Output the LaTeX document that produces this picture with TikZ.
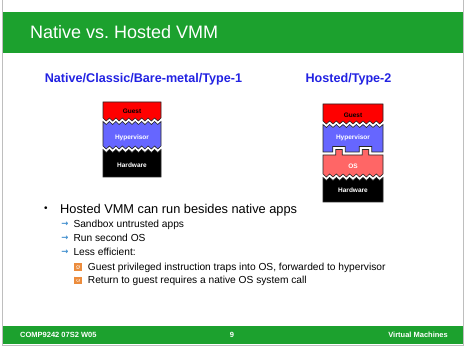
\documentclass[tikz,border=0pt]{standalone}
\usepackage{fontspec}
\setmainfont{Liberation Sans}
\newfontfamily\djv{DejaVu Sans}
\definecolor{slgreen}{RGB}{28,161,46}
\definecolor{hdblue}{RGB}{34,34,226}
\definecolor{hvblue}{RGB}{102,102,255}
\definecolor{guestred}{RGB}{255,0,0}
\definecolor{osred}{RGB}{255,102,102}
\definecolor{arrblue}{RGB}{60,140,205}
\definecolor{boxorange}{RGB}{236,140,60}
\definecolor{framegray}{RGB}{190,190,190}
\tikzset{
  layer/.style={draw=black!85, line width=0.6pt, line join=miter},
  lbl/.style={font=\fontsize{6.5}{7}\selectfont\bfseries, inner sep=0pt},
  heading/.style={font=\fontsize{12.6}{14}\selectfont\bfseries, text=hdblue, inner sep=0pt},
  foot/.style={font=\fontsize{7.5}{8}\selectfont\bfseries, text=white, inner sep=0pt},
  lvlone/.style={font=\fontsize{12.8}{14}\selectfont, inner sep=0pt, anchor=base west},
  lvltwo/.style={font=\fontsize{10.2}{12}\selectfont, inner sep=0pt, anchor=base west},
  arrbul/.style={font=\djv\bfseries\fontsize{8.5}{9}\selectfont, text=arrblue, inner sep=0pt},
}
\begin{document}
\begin{tikzpicture}[x=1pt,y=-1pt]
\useasboundingbox (0,0) rectangle (464,347);
% frame
\draw[framegray, line width=0.8pt] (2.3,0) -- (2.3,345) -- (463.3,345) -- (463.3,0);
% title band
\fill[slgreen] (3,12) rectangle (463,52.7);
\node[font=\fontsize{18}{20}\selectfont, text=white, inner sep=0pt, anchor=base west] (title) at (30,39) {Native vs.\ Hosted VMM};
% footer band
\fill[slgreen] (3,326) rectangle (463,344);
\node[foot, anchor=west] (footl) at (20,335) {COMP9242 07S2 W05};
\node[foot] (footc) at (232,335) {9};
\node[foot, anchor=east] (footr) at (448,335) {Virtual Machines};
% headings
\node[heading] (hnative) at (143.5,79.5) {Native/Classic/Bare-metal/Type-1};
\node[heading] (hhosted) at (348.5,78.8) {Hosted/Type-2};
% native stack
\filldraw[layer, fill=guestred] (103,102) -- (161,102) -- (161,118)
  \foreach \i in {1,...,9}{ -- ++(-3.2222,3) -- ++(-3.2222,-3)} -- cycle;
\filldraw[layer, fill=hvblue] (103,121.5)
  \foreach \i in {1,...,9}{ -- ++(3.2222,3) -- ++(3.2222,-3)} -- (161,146)
  \foreach \i in {1,...,9}{ -- ++(-3.2222,3) -- ++(-3.2222,-3)} -- cycle;
\filldraw[layer, fill=black] (103,149.5)
  \foreach \i in {1,...,9}{ -- ++(3.2222,3) -- ++(3.2222,-3)} -- (161,177) -- (103,177) -- cycle;
\node[lbl, text=black] (nguest) at (132,111.5) {Guest};
\node[lbl, text=white] (nhyp) at (132,137.5) {Hypervisor};
\node[lbl, text=white] (nhw) at (132,165) {Hardware};
% hosted stack
\filldraw[layer, fill=guestred] (323,104) -- (383,104) -- (383,121)
  \foreach \i in {1,...,9}{ -- ++(-3.3333,3) -- ++(-3.3333,-3)} -- cycle;
\filldraw[layer, fill=hvblue] (323,124.5)
  \foreach \i in {1,...,9}{ -- ++(3.3333,3) -- ++(3.3333,-3)} -- (383,152)
  -- (371.75,152) -- (371.75,146.5) -- (359.25,146.5) -- (359.25,152)
  -- (345.25,152) -- (345.25,146.5) -- (332.75,146.5) -- (332.75,152)
  -- (323,152) -- cycle;
\filldraw[layer, fill=osred] (323,155) -- (335.75,155) -- (335.75,149.5) -- (342.25,149.5)
  -- (342.25,155) -- (362.25,155) -- (362.25,149.5) -- (368.75,149.5) -- (368.75,155)
  -- (383,155) -- (383,174)
  \foreach \i in {1,...,9}{ -- ++(-3.3333,3) -- ++(-3.3333,-3)} -- cycle;
\filldraw[layer, fill=black] (323,177.5)
  \foreach \i in {1,...,9}{ -- ++(3.3333,3) -- ++(3.3333,-3)} -- (383,202) -- (323,202) -- cycle;
\node[lbl, text=black] (hguest) at (353,115.5) {Guest};
\node[lbl, text=white] (hhyp) at (353,138) {Hypervisor};
\node[lbl, text=white] (hos) at (353,166) {OS};
\node[lbl, text=white] (hhw) at (353,190.5) {Hardware};
% bullets
\node[font=\fontsize{10}{12}\selectfont, inner sep=0pt] (b0) at (46,209) {•};
\node[lvlone] (t0) at (60,213.5) {Hosted VMM can run besides native apps};
\node[arrbul] (a1) at (65,224.3) {→};
\node[lvltwo] (t1) at (73.3,228) {Sandbox untrusted apps};
\node[arrbul] (a2) at (65,238.3) {→};
\node[lvltwo] (t2) at (73.3,242) {Run second OS};
\node[arrbul] (a3) at (65,252.3) {→};
\node[lvltwo] (t3) at (73.3,256) {Less efficient:};
\foreach \yy/\nm in {266.7/c1, 280.3/c2}{
  \draw[boxorange, fill=boxorange!40, line width=0.5pt] (74.5,\yy-3.3) rectangle (81.1,\yy+3.3);
  \draw[boxorange, line width=0.5pt] (74.5,\yy-3.3) -- (81.1,\yy+3.3) (74.5,\yy+3.3) -- (81.1,\yy-3.3);
  \draw[boxorange, line width=0.5pt] (75.6,\yy-2.2) rectangle (80,\yy+2.2);
}
\node[lvltwo] (t4) at (87.7,270.4) {Guest privileged instruction traps into OS, forwarded to hypervisor};
\node[lvltwo] (t5) at (87.7,284) {Return to guest requires a native OS system call};
\end{tikzpicture}
\end{document}
